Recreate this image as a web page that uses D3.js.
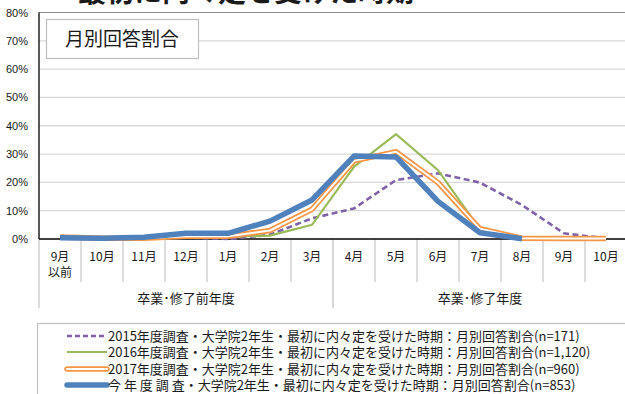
<!DOCTYPE html>
<html><head><meta charset="utf-8">
<script src="https://cdn.jsdelivr.net/npm/d3@7"></script>
<style>
body{margin:0;background:#fff;overflow:hidden}
text{font-family:"Liberation Sans","Noto Sans CJK JP",sans-serif;fill:#1a1a1a}
.jp{font-family:"Noto Sans CJK JP","Liberation Sans",sans-serif}
</style></head>
<body><svg id="c" width="625" height="394"></svg>
<script>
const months = ["9月\n以前","10月","11月","12月","1月","2月","3月","4月","5月","6月","7月","8月","9月","10月"];
const yTicks = [0,10,20,30,40,50,60,70,80];
const groupLabels = ["卒業･修了前年度","卒業･修了年度"];
const groupStartIdx = [0,7];
const seriesNames = [
  "2015年度調査・大学院2年生・最初に内々定を受けた時期：月別回答割合(n=171)",
  "2016年度調査・大学院2年生・最初に内々定を受けた時期：月別回答割合(n=1,120)",
  "2017年度調査・大学院2年生・最初に内々定を受けた時期：月別回答割合(n=960)",
  "今 年 度 調 査・大学院2年生・最初に内々定を受けた時期：月別回答割合(n=853)"
];
const s2015 = [0.3,0.2,0.2,0.5,0.0,1.5,7.3,10.8,20.8,23.2,19.9,12.0,2.0,0.2];
const s2016 = [0.3,0.2,0.2,0.5,0.8,1.2,5.0,25.5,37.0,24.3,3.4,0.2,0.1,0.1];
const s2017 = [0.7,0.3,0.3,1.0,1.0,3.0,10.5,27.6,30.8,19.9,3.6,0.3,0.2,0.2];
const sNow  = [0.4,0.3,0.6,2.0,2.0,6.3,13.8,29.3,29.0,13.3,2.2,0.1,null,null];
const title = "最初に内々定を受けた時期";
const boxLabel = "月別回答割合";

const svg = d3.select("#c");
const L = 39, T = 12.5, B = 239, bw = 42;
const idx = d3.range(months.length);
const x = d3.scaleBand().domain(idx).range([L, L + bw*months.length]).paddingInner(0).paddingOuter(0);
const y = d3.scaleLinear().domain([0,80]).range([B, T]);
const cx = i => x(i) + x.bandwidth()/2;
const R = L + bw*months.length;

// title (cut off at top)
svg.append("text").attr("class","jp").attr("x",78).attr("y",2)
  .attr("font-size",28).attr("font-weight","bold").text(title);

// gridlines
svg.append("g").selectAll("line").data(yTicks.filter(t=>t>0)).join("line")
  .attr("x1",L).attr("x2",625).attr("y1",d=>y(d)).attr("y2",d=>y(d))
  .attr("stroke",d=>d===80?"#8a8a8a":"#d9d9d9").attr("stroke-width",d=>d===80?1.2:1.3);

// y axis labels
const ya = svg.append("g").attr("transform",`translate(${L},0)`)
  .call(d3.axisLeft(y).tickValues(yTicks).tickSize(0).tickPadding(11).tickFormat(d=>d+"%"));
ya.select(".domain").remove();
ya.selectAll("text").attr("font-size",11).attr("font-family","Liberation Sans, sans-serif").attr("fill","#1a1a1a");

// month divider lines
svg.append("g").selectAll("line").data(idx.slice(1)).join("line")
  .attr("x1",d=>x(d)).attr("x2",d=>x(d)).attr("y1",B).attr("y2",d=>groupStartIdx.includes(d)?308:282)
  .attr("stroke",d=>groupStartIdx.includes(d)?"#bdbdbd":"#c8c8c8").attr("stroke-width",1.2);
// left axis line (extends down to group area)
svg.append("line").attr("x1",L).attr("x2",L).attr("y1",T).attr("y2",B).attr("stroke","#000").attr("stroke-width",1.3);
svg.append("line").attr("x1",L).attr("x2",L).attr("y1",B).attr("y2",308).attr("stroke","#c8c8c8").attr("stroke-width",1.3);

// x axis labels
const xa = svg.append("g").attr("transform",`translate(0,${B})`)
  .call(d3.axisBottom(x).tickSize(0).tickPadding(0).tickFormat(i=>months[i]));
xa.select(".domain").remove();
xa.selectAll("text").attr("class","jp").attr("font-size",12).attr("y",0).attr("dy",null).text(null)
  .each(function(i){
    const lines = months[i].split("\n");
    d3.select(this).selectAll("tspan").data(lines).join("tspan")
      .attr("x",0).attr("y",(l,k)=>22+k*16).text(l=>l);
  });

// group labels
const gEnds = groupStartIdx.map((g,i)=> i<groupStartIdx.length-1 ? x(groupStartIdx[i+1]) : R);
svg.append("g").selectAll("text").data(groupLabels).join("text").attr("class","jp")
  .attr("x",(d,i)=>(x(groupStartIdx[i])+gEnds[i])/2).attr("y",303).attr("text-anchor","middle")
  .attr("font-size",13).text(d=>d);

// x axis baseline
svg.append("line").attr("x1",L).attr("x2",625).attr("y1",B).attr("y2",B).attr("stroke","#000").attr("stroke-width",1.6);

// series lines
const line = d3.line().defined(d=>d!=null).x((d,i)=>cx(i)).y(d=>y(d));
const g = svg.append("g");
g.append("path").datum(s2015).attr("d",line).attr("fill","none").attr("stroke","#7f62a8").attr("stroke-width",2.6).attr("stroke-dasharray","6,3.5");
g.append("path").datum(s2016).attr("d",line).attr("fill","none").attr("stroke","#9bbb59").attr("stroke-width",2.2);
g.append("path").datum(s2017).attr("d",line).attr("fill","none").attr("stroke","#f79646").attr("stroke-width",5.5).attr("stroke-linejoin","round");
g.append("path").datum(s2017).attr("d",line).attr("fill","none").attr("stroke","#fff").attr("stroke-width",2).attr("stroke-linejoin","round");
g.append("path").datum(sNow).attr("d",line).attr("fill","none").attr("stroke","#4f81bd").attr("stroke-width",5.5).attr("stroke-linejoin","round");

// box label
svg.append("rect").attr("x",46.5).attr("y",19.5).attr("width",152).attr("height",39).attr("fill","#fff").attr("stroke","#bfbfbf").attr("stroke-width",1.2);
svg.append("text").attr("class","jp").attr("x",122).attr("y",46).attr("text-anchor","middle").attr("font-size",19).text(boxLabel);

// legend
svg.append("rect").attr("x",37.5).attr("y",323.5).attr("width",620).attr("height",100).attr("fill","#fff").attr("stroke","#bfbfbf").attr("stroke-width",1.2);
const legY = [336,352,369,385];
const lg = svg.append("g");
seriesNames.forEach((n,i)=>{
  const yy = legY[i];
  if(i===0) lg.append("line").attr("x1",67).attr("x2",107).attr("y1",yy).attr("y2",yy).attr("stroke","#7f62a8").attr("stroke-width",2.6).attr("stroke-dasharray","5,3");
  if(i===1) lg.append("line").attr("x1",67).attr("x2",107).attr("y1",yy).attr("y2",yy).attr("stroke","#9bbb59").attr("stroke-width",2.2);
  if(i===2){ lg.append("line").attr("x1",67).attr("x2",107).attr("y1",yy).attr("y2",yy).attr("stroke","#f79646").attr("stroke-width",5.5).attr("stroke-linecap","round");
             lg.append("line").attr("x1",67).attr("x2",107).attr("y1",yy).attr("y2",yy).attr("stroke","#fff").attr("stroke-width",2).attr("stroke-linecap","round"); }
  if(i===3) lg.append("line").attr("x1",67).attr("x2",107).attr("y1",yy).attr("y2",yy).attr("stroke","#4f81bd").attr("stroke-width",5.5).attr("stroke-linecap","round");
  lg.append("text").attr("class","jp").attr("x",108).attr("y",yy+4.5).attr("font-size",13).attr("font-family","Liberation Sans, Noto Sans CJK JP, sans-serif").text(n);
});
</script></body></html>
